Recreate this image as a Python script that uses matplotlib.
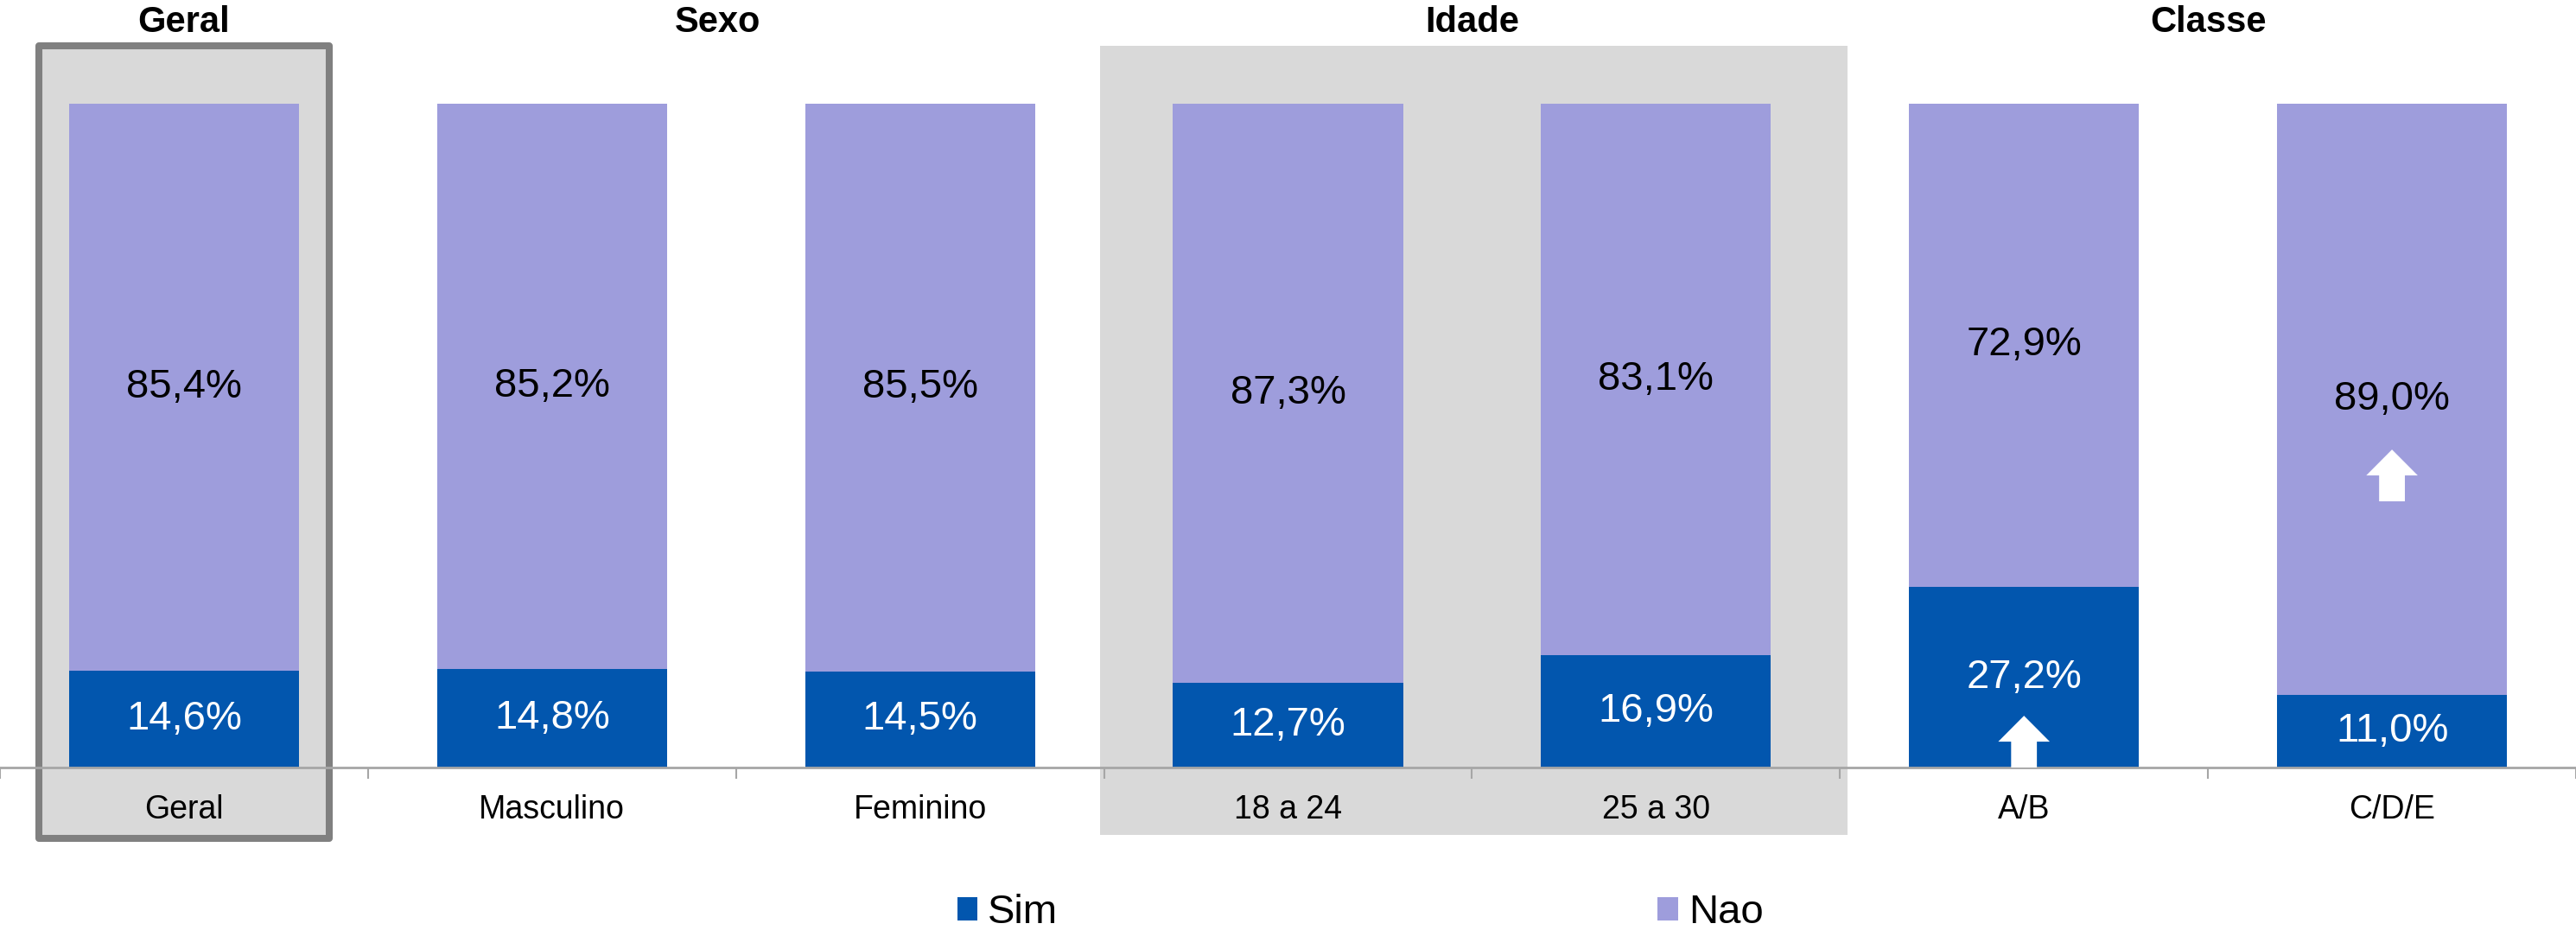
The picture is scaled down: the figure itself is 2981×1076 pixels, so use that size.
import matplotlib
matplotlib.use('Agg')
import matplotlib.pyplot as plt
from matplotlib.patches import Rectangle, FancyArrow

plt.rcParams['font.family'] = ['Liberation Sans', 'DejaVu Sans']

# dados
categorias = ['Geral', 'Masculino', 'Feminino', '18 a 24', '25 a 30', 'A/B', 'C/D/E']
sim = [14.6, 14.8, 14.5, 12.7, 16.9, 27.2, 11.0]
nao = [85.4, 85.2, 85.5, 87.3, 83.1, 72.9, 89.0]
grupos = ['Geral', 'Sexo', 'Idade', 'Classe']
grupos_x = [0, 1.45, 3.5, 5.5]

cor_sim = '#0256AE'
cor_nao = '#9E9DDC'
cinza = '#D9D9D9'

fig = plt.figure(figsize=(29.81, 10.76), dpi=100)
ax = fig.add_axes([0, 0.1747, 1, 0.7138])
x = list(range(len(categorias)))

# fundos cinza (Geral com borda, Idade sem borda)
ax.add_patch(Rectangle((-0.395, -10.7), 0.79, 119.4, facecolor=cinza,
                       edgecolor='#808080', linewidth=5.8, joinstyle='round',
                       clip_on=False, zorder=0.5))
ax.add_patch(Rectangle((2.49, -10.2), 2.03, 118.9, facecolor=cinza,
                       edgecolor='none', clip_on=False, zorder=0.5))

ax.bar(x, sim, width=0.625, color=cor_sim, label='Sim', zorder=2)
ax.bar(x, nao, width=0.625, bottom=sim, color=cor_nao, label='Nao', zorder=2)

for i in x:
    ax.text(i, sim[i] / 2, f'{sim[i]:.1f}%'.replace('.', ','), ha='center',
            va='center', color='white', fontsize=34, zorder=3)
    ax.text(i, sim[i] + nao[i] / 2, f'{nao[i]:.1f}%'.replace('.', ','),
            ha='center', va='center', color='black', fontsize=34, zorder=3)

# setas brancas
ax.add_patch(FancyArrow(5, 0, 0, 7.8, width=0.07, head_width=0.14, head_length=3.9,
                        length_includes_head=True, color='white', lw=0, zorder=4))
ax.add_patch(FancyArrow(6, 40.1, 0, 7.8, width=0.07, head_width=0.14, head_length=3.9,
                        length_includes_head=True, color='white', lw=0, zorder=4))

for g, gx in zip(grupos, grupos_x):
    ax.text(gx, 112.3, g, ha='center', va='center', fontsize=30,
            fontweight='bold', clip_on=False)

ax.set_xlim(-0.5, 6.5)
ax.set_ylim(0, 100)
ax.set_yticks([])
ax.set_xticks(x)
ax.set_xticklabels(categorias, fontsize=27)
ax.set_xticks([i - 0.5 for i in range(8)], minor=True)
ax.tick_params(axis='x', which='major', length=0, pad=22)
ax.tick_params(axis='x', which='minor', length=9, width=1.5, color='#A6A6A6')
for s in ['top', 'left', 'right']:
    ax.spines[s].set_visible(False)
ax.spines['bottom'].set_color('#A6A6A6')
ax.spines['bottom'].set_linewidth(2)
ax.patch.set_alpha(0)

h, l = ax.get_legend_handles_labels()
fig.legend(h, l, ncol=2, loc='center', bbox_to_anchor=(0.528, 0.0186),
           frameon=False, fontsize=34, handlelength=0.5, handleheight=0.5,
           handletextpad=0.25, columnspacing=14.7, borderpad=0)

fig.savefig('out.png', dpi=100)
